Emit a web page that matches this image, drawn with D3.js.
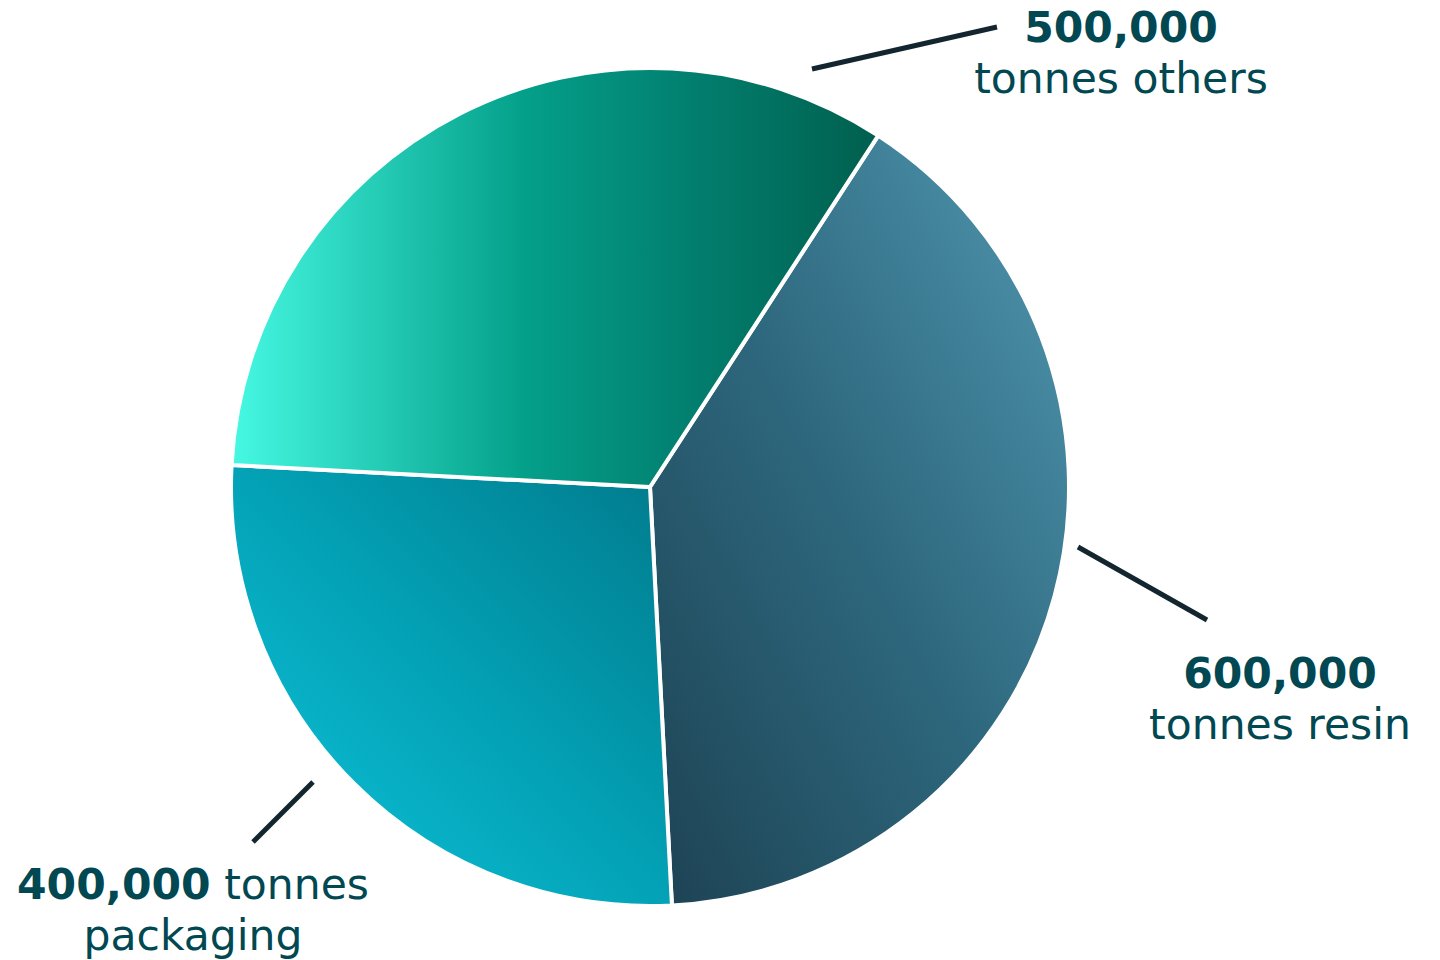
<!DOCTYPE html>
<html lang="en">
<head>
<meta charset="UTF-8">
<title>Tonnes by type</title>
<script src="https://d3js.org/d3.v7.min.js"></script>
<style>
  html, body { margin: 0; padding: 0; background: #fff; }
  svg { display: block; }
  text { font-family: "DejaVu Sans", Verdana, sans-serif; fill: #014852; }
</style>
</head>
<body>
<svg id="chart" width="1440" height="960"></svg>
<script>
// data
const categories = ["resin", "packaging", "others"];
const values = [600000, 400000, 500000];
const valueLabels = ["600,000", "400,000", "500,000"];

const width = 1440, height = 960;
const cx = 650, cy = 487, radius = 419;
const startDeg = 33;

// gradient stops per slice (x1,y1,x2,y2 in bbox fractions)
const gradients = {
  resin:     { x1: 0, y1: 1, x2: 1, y2: 0, stops: [[0, "#1d4253"], [0.5, "#2e687e"], [1, "#5199b2"]] },
  packaging: { x1: 0, y1: 1, x2: 1, y2: 0, stops: [[0, "#10c6dc"], [0.5, "#03a2b6"], [1, "#017a8c"]] },
  others:    { x1: 0, y1: 0, x2: 1, y2: 0, stops: [[0, "#46f8e2"], [0.45, "#04a08a"], [0.7, "#028070"], [1, "#015f4e"]] }
};

// label layout (relative to pie centre)
const annot = {
  others:    { line: [[162, -418], [347, -460]], text: [471, -445], anchor: "middle",
               lines: [[{b: true, t: "500,000"}], [{t: "tonnes others"}]] },
  resin:     { line: [[428, 60], [557, 133]], text: [630, 201], anchor: "middle",
               lines: [[{b: true, t: "600,000"}], [{t: "tonnes resin"}]] },
  packaging: { line: [[-337, 295], [-397, 355]], text: [-457, 412], anchor: "middle",
               lines: [[{b: true, t: "400,000"}, {t: " tonnes"}], [{t: "packaging"}]] }
};

const svg = d3.select("#chart");
const defs = svg.append("defs");

categories.forEach(c => {
  const g = gradients[c];
  const lg = defs.append("linearGradient")
    .attr("id", "grad-" + c)
    .attr("x1", g.x1).attr("y1", g.y1).attr("x2", g.x2).attr("y2", g.y2);
  g.stops.forEach(s => lg.append("stop").attr("offset", s[0]).attr("stop-color", s[1]));
});

const data = categories.map((c, i) => ({ cat: c, value: values[i], label: valueLabels[i] }));

const pie = d3.pie()
  .value(d => d.value)
  .sort(null)
  .startAngle(startDeg * Math.PI / 180)
  .endAngle((startDeg + 360) * Math.PI / 180);

const arc = d3.arc().innerRadius(0).outerRadius(radius);

const g = svg.append("g").attr("transform", `translate(${cx},${cy})`);

g.selectAll("path")
  .data(pie(data))
  .join("path")
  .attr("d", arc)
  .attr("fill", d => `url(#grad-${d.data.cat})`)
  .attr("stroke", "#fff")
  .attr("stroke-width", 4)
  .attr("stroke-linejoin", "round");

// leader lines
g.selectAll("line.leader")
  .data(data)
  .join("line")
  .attr("class", "leader")
  .attr("x1", d => annot[d.cat].line[0][0])
  .attr("y1", d => annot[d.cat].line[0][1])
  .attr("x2", d => annot[d.cat].line[1][0])
  .attr("y2", d => annot[d.cat].line[1][1])
  .attr("stroke", "#13262f")
  .attr("stroke-width", 5);

// labels
const fs = 42.5, lh = 51;
data.forEach(d => {
  const a = annot[d.cat];
  const t = g.append("text")
    .attr("x", a.text[0]).attr("y", a.text[1])
    .attr("text-anchor", a.anchor)
    .style("font-size", fs + "px");
  a.lines.forEach((ln, li) => {
    ln.forEach((seg, si) => {
      const ts = t.append("tspan").text(seg.t).attr("font-weight", seg.b ? "bold" : "normal");
      if (si === 0) ts.attr("x", a.text[0]).attr("dy", li === 0 ? 0 : lh);
    });
  });
});
</script>
</body>
</html>
